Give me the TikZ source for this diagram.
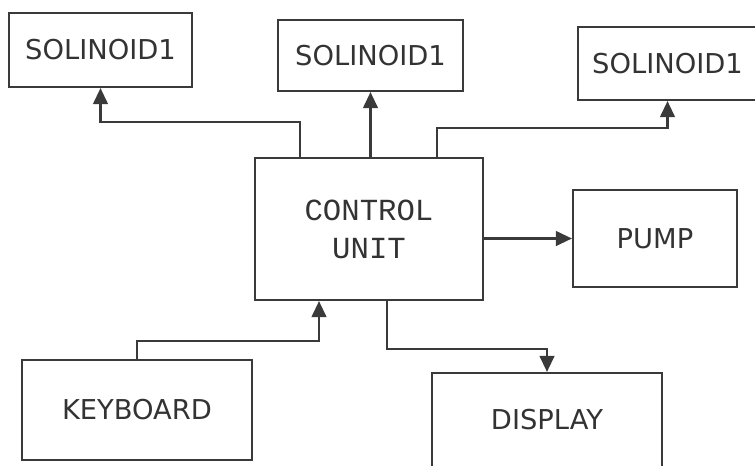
\documentclass[tikz,border=0pt]{standalone}
\usepackage{fontspec}
\setmainfont{DejaVu Sans}
\newfontfamily\monofnt{Liberation Mono}
\usetikzlibrary{arrows.meta,calc}
\definecolor{linec}{HTML}{3A3A3A}
\definecolor{textc}{HTML}{333333}
\begin{document}
\begin{tikzpicture}[x=0.75pt,y=-0.75pt,
  blockbox/.style={draw=linec, line width=1.6pt, rectangle, inner sep=0pt, text=textc,
     font=\fontsize{20.5}{24}\selectfont},
  arr/.style={draw=linec, line width=1.6pt, -{Triangle[length=12pt,width=11pt]}}]
\useasboundingbox (0,0) rectangle (755,465);
\fill[white] (0,0) rectangle (755,465);
\node[blockbox, minimum width=137.25pt, minimum height=55.5pt] (s1) at (100.5,50) {SOLINOID1};
\node[blockbox, minimum width=138.75pt, minimum height=53.25pt] (s2) at (370.5,55.5) {SOLINOID1};
\node[blockbox, minimum width=134.25pt, minimum height=54.75pt] (s3) at (667.5,63.5) {SOLINOID1};
\node[blockbox, minimum width=171pt, minimum height=106.5pt, align=center,
  font=\monofnt\fontsize{23}{28.5}\selectfont] (cu) at (369,229) {CONTROL\\UNIT};
\node[blockbox, minimum width=123pt, minimum height=72.75pt] (pump) at (655,238.5) {PUMP};
\node[blockbox, minimum width=172.5pt, minimum height=75pt] (kb) at (137,410) {KEYBOARD};
\node[blockbox, minimum width=172.5pt, minimum height=70.5pt] (disp) at (547,420) {DISPLAY};
\draw[arr] ($(cu.north)+(-69,0)$) -- ++(0,-35) -| (s1.south);
\draw[arr] (cu.north -| s2.south) -- (s2.south);
\draw[arr] ($(cu.north)+(68,0)$) -- ++(0,-29) -| (s3.south);
\draw[arr] (cu.east |- pump.west) -- (pump.west);
\draw[arr] (kb.north) -- ++(0,-18) -| ($(cu.south)+(-50,0)$);
\draw[arr] ($(cu.south)+(18,0)$) -- ++(0,48) -| (disp.north);
\end{tikzpicture}
\end{document}
